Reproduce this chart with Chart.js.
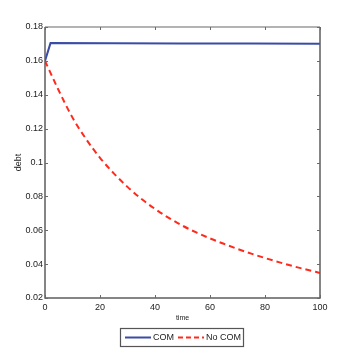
<!DOCTYPE html>
<html>
<head>
<meta charset="utf-8">
<script src="https://cdn.jsdelivr.net/npm/chart.js@4"></script>
<style>
  html, body { margin: 0; padding: 0; background: #fff; }
  #wrap { width: 354px; height: 355px; }
</style>
</head>
<body>
<div id="wrap"><canvas id="debtChart" width="354" height="355"></canvas></div>
<script>
// data
const comTime = [0, 2, 25, 50, 75, 100];
const comDebt = [0.160, 0.1705, 0.1704, 0.1703, 0.1702, 0.1701];

const noComTime = [0, 5, 10, 15, 20, 25, 30, 35, 40, 45, 50, 55, 60, 65, 70, 75, 80, 85, 90, 95, 100];
const noComDebt = [0.160, 0.1425, 0.1265, 0.1137, 0.1028, 0.0936, 0.0856, 0.0786, 0.0726, 0.0673, 0.0627,
                   0.0587, 0.0552, 0.0520, 0.0490, 0.0462, 0.0436, 0.0412, 0.0389, 0.0368, 0.0348];

const xTicks = [0, 20, 40, 60, 80, 100];
const yTicks = [0.02, 0.04, 0.06, 0.08, 0.1, 0.12, 0.14, 0.16, 0.18];
const seriesNames = ['COM', 'No COM'];

const FONT = '"Liberation Sans", Arial, sans-serif';
const BLUE = '#3a4ca6';
const RED = '#ff2a1c';

// matlab style box with inward ticks + boxed legend
const boxPlugin = {
  id: 'box',
  afterDraw(chart) {
    const ctx = chart.ctx;
    const a = chart.chartArea;
    const xs = chart.scales.x, ys = chart.scales.y;
    ctx.save();
    ctx.lineWidth = 1.5;
    ctx.strokeStyle = '#9a9a9a';
    ctx.beginPath();
    ctx.moveTo(a.left, a.top); ctx.lineTo(a.right, a.top);
    ctx.stroke();
    ctx.strokeStyle = '#5e5e5e';
    ctx.beginPath();
    ctx.moveTo(a.left, a.top); ctx.lineTo(a.left, a.bottom);
    ctx.lineTo(a.right, a.bottom); ctx.lineTo(a.right, a.top);
    ctx.stroke();

    ctx.lineWidth = 1;
    ctx.strokeStyle = '#6a6a6a';
    ctx.beginPath();
    xTicks.forEach(v => {
      const px = Math.round(xs.getPixelForValue(v)) + 0.5;
      ctx.moveTo(px, a.bottom); ctx.lineTo(px, a.bottom - 3);
      ctx.moveTo(px, a.top); ctx.lineTo(px, a.top + 3);
    });
    yTicks.forEach(v => {
      const py = Math.round(ys.getPixelForValue(v)) + 0.5;
      ctx.moveTo(a.left, py); ctx.lineTo(a.left + 3, py);
      ctx.moveTo(a.right, py); ctx.lineTo(a.right - 3, py);
    });
    ctx.stroke();

    // legend
    const lx = 120, ly = 328, lw = 123, lh = 18;
    ctx.fillStyle = '#fff';
    ctx.fillRect(lx, ly, lw, lh);
    ctx.lineWidth = 1.2;
    ctx.strokeStyle = '#555';
    ctx.strokeRect(lx + 0.5, ly + 0.5, lw, lh);
    const cy = ly + lh / 2 + 0.5;
    ctx.lineWidth = 2;
    ctx.strokeStyle = BLUE;
    ctx.setLineDash([]);
    ctx.beginPath(); ctx.moveTo(lx + 5, cy); ctx.lineTo(lx + 31, cy); ctx.stroke();
    ctx.strokeStyle = RED;
    ctx.setLineDash([5, 3]);
    ctx.beginPath(); ctx.moveTo(lx + 58, cy); ctx.lineTo(lx + 84, cy); ctx.stroke();
    ctx.setLineDash([]);
    ctx.fillStyle = '#222';
    ctx.font = '9px ' + FONT;
    ctx.textBaseline = 'middle';
    ctx.fillText(seriesNames[0], lx + 33, cy);
    ctx.fillText(seriesNames[1], lx + 86, cy);
    ctx.restore();
  }
};

new Chart(document.getElementById('debtChart').getContext('2d'), {
  type: 'line',
  data: {
    datasets: [
      {
        label: seriesNames[0],
        data: comTime.map((t, i) => ({ x: t, y: comDebt[i] })),
        borderColor: BLUE,
        borderWidth: 2,
        pointRadius: 0,
        tension: 0
      },
      {
        label: seriesNames[1],
        data: noComTime.map((t, i) => ({ x: t, y: noComDebt[i] })),
        borderColor: RED,
        borderWidth: 2,
        borderDash: [6, 4],
        pointRadius: 0,
        cubicInterpolationMode: 'monotone'
      }
    ]
  },
  options: {
    responsive: false,
    animation: false,
    layout: { padding: { top: 27, right: 34, bottom: 27, left: 0 } },
    scales: {
      x: {
        type: 'linear',
        min: 0,
        max: 100,
        afterFit: s => { s.height = 30; },
        afterBuildTicks: s => { s.ticks = xTicks.map(v => ({ value: v })); },
        grid: { display: false, drawTicks: false },
        border: { display: false },
        ticks: { color: '#222', font: { family: FONT, size: 9 }, padding: 4, maxRotation: 0 },
        title: { display: true, text: 'time', color: '#222', font: { family: FONT, size: 7 }, padding: { top: 0, bottom: 6 } }
      },
      y: {
        type: 'linear',
        min: 0.02,
        max: 0.18,
        afterFit: s => { s.width = 45; },
        afterBuildTicks: s => { s.ticks = yTicks.map(v => ({ value: v })); },
        grid: { display: false, drawTicks: false },
        border: { display: false },
        ticks: {
          color: '#222',
          font: { family: FONT, size: 9 },
          padding: 2,
          callback: v => String(Number(v.toFixed(2)))
        },
        title: { display: true, text: 'debt', color: '#222', font: { family: FONT, size: 9 }, padding: { top: 13, bottom: 0 } }
      }
    },
    plugins: {
      legend: { display: false },
      tooltip: { enabled: false }
    }
  },
  plugins: [boxPlugin]
});
</script>
</body>
</html>
